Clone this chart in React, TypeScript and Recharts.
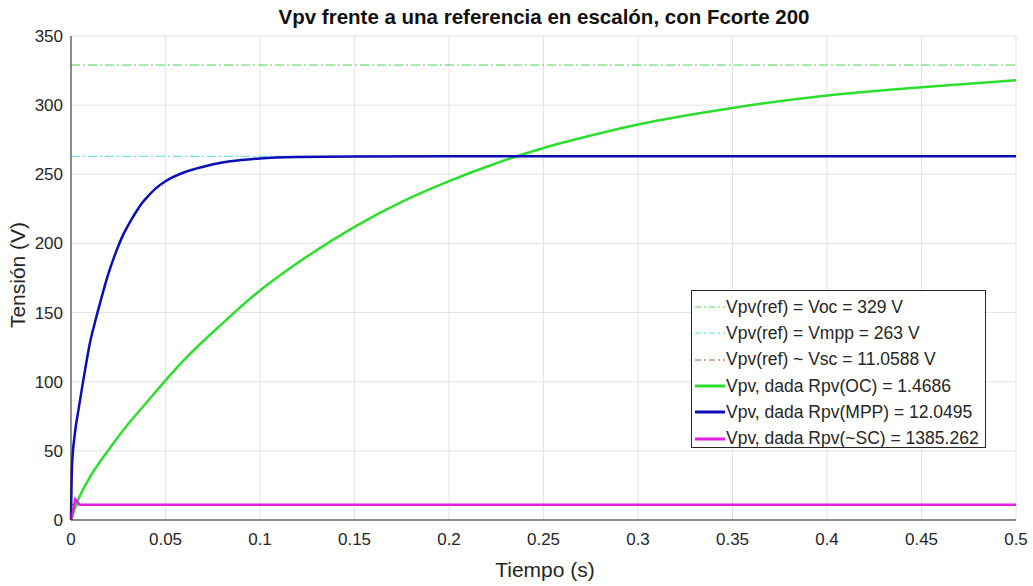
import React from "react";
import {
  LineChart,
  Line,
  XAxis,
  YAxis,
  CartesianGrid,
  Legend,
  Label,
} from "recharts";

// tiempo (s) y tensión (V)
const TIME_OC = [0, 0.003, 0.01, 0.02, 0.03, 0.04, 0.05, 0.06, 0.08, 0.1, 0.12, 0.15, 0.175, 0.2, 0.225, 0.25, 0.275, 0.3, 0.35, 0.4, 0.45, 0.5];
const VPV_OC = [0, 12, 31, 51, 69, 85, 101, 116, 142, 166, 186, 212, 230, 245, 258, 269, 278, 286, 298, 307, 313, 318];

const TIME_MPP = [0, 0.0005, 0.002, 0.004, 0.006, 0.008, 0.01, 0.0125, 0.015, 0.0175, 0.02, 0.0225, 0.025, 0.0275, 0.03, 0.0325, 0.035, 0.0375, 0.04, 0.045, 0.05, 0.06, 0.07, 0.08, 0.09, 0.1, 0.12, 0.15, 0.2, 0.5];
const VPV_MPP = [0, 38, 62, 80, 97, 113, 128, 142, 155, 167.5, 179, 189, 198, 206, 212.5, 218.5, 224, 229, 233, 240, 245, 251.5, 255.5, 258.5, 260.3, 261.5, 262.5, 262.9, 263, 263];

const TIME_SC = [0, 0.0023, 0.0045, 0.5];
const VPV_SC = [0, 15, 11.06, 11.06];

const REF_T = [0, 0.5];
const VOC = 329;
const VMPP = 263;
const VSC = 11.0588;

const X_TICKS = [0, 0.05, 0.1, 0.15, 0.2, 0.25, 0.3, 0.35, 0.4, 0.45, 0.5];
const Y_TICKS = [0, 50, 100, 150, 200, 250, 300, 350];

const toPoints = (ts: number[], vs: number[]) => ts.map((t, i) => ({ t, v: vs[i] }));
const flat = (v: number) => REF_T.map((t) => ({ t, v }));

const DASH_DOT = "9 3 2 3";

const SERIES = [
  { name: "Vpv(ref) = Voc = 329 V", data: flat(VOC), color: "#4fd44f", width: 1, dash: DASH_DOT, type: "linear" },
  { name: "Vpv(ref) = Vmpp = 263 V", data: flat(VMPP), color: "#4fdede", width: 1, dash: DASH_DOT, type: "linear" },
  { name: "Vpv(ref) ~ Vsc = 11.0588 V", data: flat(VSC), color: "#b2573a", width: 1, dash: DASH_DOT, type: "linear" },
  { name: "Vpv, dada Rpv(OC) = 1.4686", data: toPoints(TIME_OC, VPV_OC), color: "#2ddf2d", width: 2.5, dash: undefined, type: "monotone" },
  { name: "Vpv, dada Rpv(MPP) = 12.0495", data: toPoints(TIME_MPP, VPV_MPP), color: "#0c0cb8", width: 2.5, dash: undefined, type: "monotone" },
  { name: "Vpv, dada Rpv(~SC) = 1385.262", data: toPoints(TIME_SC, VPV_SC), color: "#e21fe2", width: 2.5, dash: undefined, type: "linear" },
];

const FONT = "'Liberation Sans', Arial, Helvetica, sans-serif";
const TEXT = "#262626";

function LegendBox() {
  return (
    <div
      style={{
        width: 295,
        height: 158,
        boxSizing: "border-box",
        border: "1px solid #262626",
        background: "#fff",
        paddingTop: 3,
        fontFamily: FONT,
      }}
    >
      {SERIES.map((s) => (
        <div key={s.name} style={{ display: "flex", alignItems: "center", height: 26.3 }}>
          <svg width={32} height={8} style={{ marginLeft: 2 }}>
            <line
              x1={1}
              x2={31}
              y1={4}
              y2={4}
              stroke={s.color}
              strokeWidth={s.width === 1 ? 1 : 3}
              strokeDasharray={s.dash ? "6 3 2 3" : undefined}
            />
          </svg>
          <span style={{ fontSize: 17.5, color: TEXT, whiteSpace: "nowrap" }}>{s.name}</span>
        </div>
      ))}
    </div>
  );
}

export default function App() {
  return (
    <div
      style={{
        position: "fixed",
        left: 0,
        top: 0,
        width: 1033,
        height: 586,
        background: "#fff",
        fontFamily: FONT,
      }}
    >
      <div
        style={{
          position: "absolute",
          left: 44,
          width: 1000,
          top: 5,
          textAlign: "center",
          fontWeight: "bold",
          fontSize: 20.5,
          lineHeight: "24px",
          color: "#111",
        }}
      >
        Vpv frente a una referencia en escalón, con Fcorte 200
      </div>
      <LineChart width={1033} height={586} margin={{ top: 36, right: 17, bottom: 26, left: 0 }}>
        <CartesianGrid stroke="#e3e3e3" />
        <XAxis
          dataKey="t"
          type="number"
          domain={[0, 0.5]}
          ticks={X_TICKS}
          height={40}
          stroke={TEXT}
          tickLine={false}
          tickSize={8}
          tickMargin={5}
          tick={{ fill: TEXT, fontSize: 17, fontFamily: FONT }}
          allowDuplicatedCategory={false}
        >
          <Label
            content={() => (
              <text x={545} y={577} textAnchor="middle" fill={TEXT} fontSize={21} fontFamily={FONT}>
                Tiempo (s)
              </text>
            )}
          />
        </XAxis>
        <YAxis
          dataKey="v"
          type="number"
          domain={[0, 350]}
          ticks={Y_TICKS}
          width={71}
          stroke={TEXT}
          tickLine={false}
          tickSize={4}
          tickMargin={4}
          tick={{ fill: TEXT, fontSize: 17, fontFamily: FONT }}
        >
          <Label
            content={() => (
              <text
                x={25}
                y={275}
                transform="rotate(-90 25 275)"
                textAnchor="middle"
                fill={TEXT}
                fontSize={21}
                fontFamily={FONT}
              >
                Tensión (V)
              </text>
            )}
          />
        </YAxis>
        <Legend
          layout="vertical"
          align="center"
          verticalAlign="middle"
          content={<LegendBox />}
          wrapperStyle={{ left: 691, top: 290, width: 296, height: 158 }}
        />
        {SERIES.map((s) => (
          <Line
            key={s.name}
            data={s.data}
            dataKey="v"
            type={s.type as any}
            name={s.name}
            stroke={s.color}
            strokeWidth={s.width}
            strokeDasharray={s.dash}
            dot={false}
            isAnimationActive={false}
          />
        ))}
      </LineChart>
    </div>
  );
}
